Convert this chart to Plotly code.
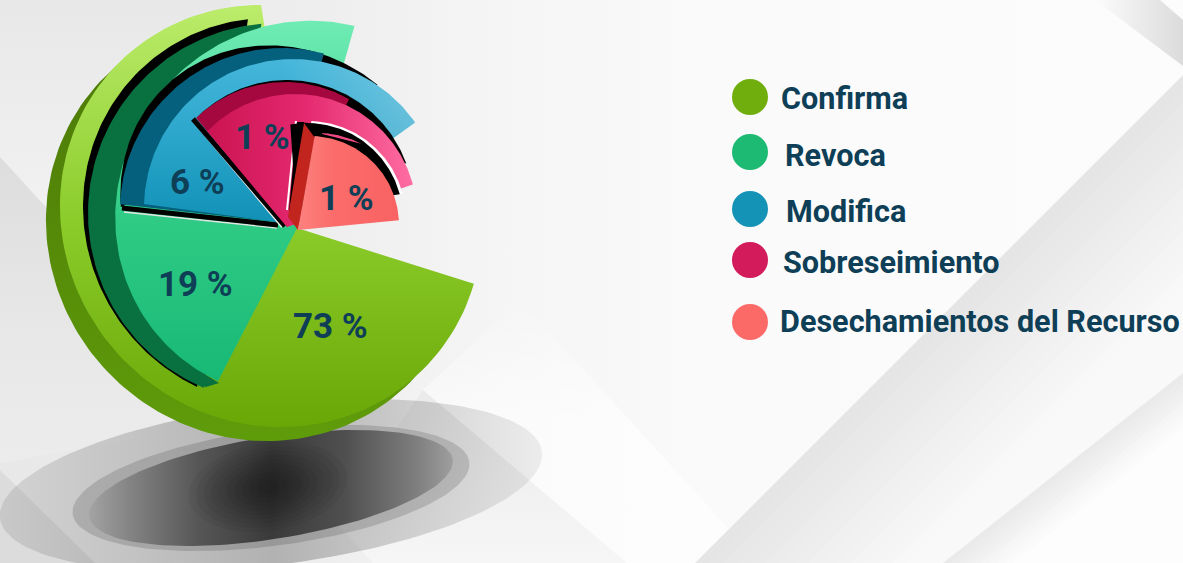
import numpy as np
import plotly.graph_objects as go

# ---- chart data ----
categories = ["Confirma", "Revoca", "Modifica", "Sobreseimiento", "Desechamientos del Recurso"]
values = [73, 19, 6, 1, 1]
legend_colors = ["#6fae0c", "#1cba72", "#1593b6", "#d31a5b", "#fc6a68"]
legend_y = [97, 152, 209, 260, 322]
legend_text_x = [779, 783, 784, 781, 778]
legend_text_y = [98, 155, 211, 262, 321]
label_x = [330, 195, 197, 262, 346]
label_y = [326, 284, 182, 137, 198]
TEXT = "#0e3f57"
FONT = "Roboto"

fig = go.Figure()


def arc(cx, cy, a, b, phi, t0, t1, n=120):
    """Points on a rotated ellipse, polar angle t in degrees, counter-clockwise on screen."""
    t = np.radians(np.linspace(t0, t1, n))
    p = np.radians(phi)
    r = 1 / np.sqrt((np.cos(t - p) / a) ** 2 + (np.sin(t - p) / b) ** 2)
    return cx + r * np.cos(t), cy - r * np.sin(t)


def poly(xs, ys, color=None, grad=None):
    kw = dict(x=list(xs), y=list(ys), mode="lines", fill="toself", hoverinfo="skip",
              showlegend=False, line=dict(width=0, color="rgba(0,0,0,0)"))
    if grad:
        orient, start, stop, scale = grad
        kw["fillgradient"] = dict(type=orient, start=start, stop=stop, colorscale=scale)
    else:
        kw["fillcolor"] = color
    fig.add_trace(go.Scatter(**kw))


def sector(tip, c, a, b, phi, t0, t1, color=None, grad=None):
    x, y = arc(c[0], c[1], a, b, phi, t0, t1)
    if tip is not None:
        x = np.r_[tip[0], x, tip[0]]
        y = np.r_[tip[1], y, tip[1]]
    poly(x, y, color, grad)


def stroke(x0, y0, x1, y1, color, w):
    fig.add_trace(go.Scatter(x=[x0, x1], y=[y0, y1], mode="lines", hoverinfo="skip", showlegend=False,
                             line=dict(color=color, width=w)))


def tilted(cx, cy, a, b, phi, color=None, grad=None):
    t = np.linspace(0, 2 * np.pi, 160)
    p = np.radians(phi)
    x = cx + a * np.cos(t) * np.cos(p) - b * np.sin(t) * np.sin(p)
    y = cy - (a * np.cos(t) * np.sin(p) + b * np.sin(t) * np.cos(p))
    poly(x, y, color, grad)


def grey(v):
    v = int(round(v))
    return f"rgb({v},{v},{v})"


# ---- background facets ----
poly([0, 1183, 1183, 0], [0, 0, 563, 563],
     grad=("horizontal", 0, 1183, [[0, "#e8e8e8"], [0.25, "#ededed"], [0.42, "#f5f5f5"], [0.6, "#fafafa"], [1, "#fcfcfc"]]))
poly([0, 230, 240, 0], [0, 0, 420, 157], grad=("vertical", 0, 300, [[0, "#e8e8e8"], [1, "#f5f5f5"]]))
poly([0, 240, 0], [157, 420, 463], grad=("vertical", 157, 463, [[0, "#dddddd"], [0.6, "#e8e8e8"], [1, "#ececec"]]))
poly([0, 95, 0], [470, 563, 563], "#dcdcdc")
poly([423, 627, 373, 333], [390, 563, 563, 520], grad=("vertical", 390, 563, [[0, "#eaeaea"], [1, "#f6f6f6"]]))
poly([423, 627, 760, 520], [390, 563, 563, 300],
     grad=("vertical", 300, 420, [[0, "rgba(255,255,255,0)"], [1, "rgba(255,255,255,0.6)"]]))
for s in np.linspace(1258, 1470, 16):
    poly([1183, 1183, s - 563], [s - 1183, 563, 563], grey(229 + (s - 1258) / 212 * 20))
for d in np.linspace(0, 70, 10):
    poly([1183, 1183, 943 + d], [373 + 0.79 * d, 563, 563], grey(234 + d / 70 * 19))
poly([1095, 1160, 1183, 1183], [0, 0, 20, 66],
     grad=("horizontal", 1095, 1183, [[0, "rgba(0,0,0,0)"], [1, "rgba(0,0,0,0.13)"]]))

# ---- floor shadow ----
tilted(271, 485, 273, 80, 7, grad=("horizontal", 0, 543, [[0, "rgba(0,0,0,0.09)"], [0.5, "rgba(0,0,0,0.25)"], [1, "rgba(0,0,0,0.06)"]]))
tilted(271, 488, 200, 58, 7.5, "rgba(0,0,0,0.14)")
tilted(271, 488, 184, 51, 9, grad=("horizontal", 88, 455, [[0, "#a4a4a4"], [0.12, "#828282"], [0.3, "#565656"], [0.5, "#3a3a3a"], [0.7, "#4f4f4f"], [0.9, "#808080"], [1, "#a0a0a0"]]))
for k in np.linspace(1, 0.15, 10):
    tilted(268, 487, 80 * k, 44 * k, 9, "rgba(0,0,0,0.045)")

# ---- Confirma ----
TIP = (297, 228)
sector(None, (257, 230), 216, 206, 135, 125, 320, grad=("vertical", 60, 441, [[0, "#4d7a07"], [1, "#5f9c0a"]]))
sector(TIP, (271, 216), 216, 206, 135, 92.7, 341.5,
       grad=("vertical", 3, 428, [[0, "#bcec6c"], [0.5, "#8ccd2c"], [1, "#69a706"]]))

# ---- Revoca ----
sector(None, (275, 212), 196, 190, 125, 98, 246, "#000000")
sector(None, (278, 213), 190, 190, 0, 95, 247, "#08713f")
poly([195, 206, 219, 190], [383, 387, 383, 365], "#08713f")
sector(TIP, (302, 209), 192, 183, 50, 74, 244,
       grad=("vertical", 18, 385, [[0, "#70ecb4"], [0.55, "#2fcb85"], [1, "#17b875"]]))

# ---- Modifica ----
sector(None, (282, 207), 168, 155, 135, 52, 180, "#000000")
stroke(124, 212, 277, 228, "#e4e4e4", 1.5)
stroke(122, 208, 278, 225, "#000000", 5)
BT = (277, 222)
sector(BT, (282, 210), 162, 162, 0, 75, 178, "#05607e")
sector(BT, (293, 208), 149, 149, 0, 35, 178.5,
       grad=("vertical", 60, 222, [[0, "#45b6da"], [0.5, "#2aa5ca"], [1, "#1291b6"]]))
sector(BT, (293, 208), 149, 149, 0, 35, 100,
       grad=("horizontal", 280, 415, [[0, "rgba(255,255,255,0)"], [1, "rgba(255,255,255,0.26)"]]))

# ---- Sobreseimiento ----
stroke(194, 122, 282, 227, "#f0f0f0", 2)
stroke(193, 119, 285, 226, "#000000", 5)
sector(None, (287, 207), 127, 127, 0, 20, 135, "#000000")
PT = (287, 227)
sector(PT, (285, 210), 128, 128, 0, 60, 134, "#a4083e")
sector(PT, (295, 216), 122, 122, 0, 15, 136,
       grad=("horizontal", 200, 415, [[0, "#c9124f"], [0.5, "#e52a70"], [1, "#ff6fa2"]]))

# ---- Desechamientos ----
stroke(287, 210, 296, 121, "#ffffff", 2)
poly([289, 297, 304, 293], [210, 122, 122, 217], "#000000")
sector((296, 210), (308, 219), 98, 98, 0, 15, 88, "#ffffff")
sector((296, 210), (307, 219), 96, 96, 0, 15, 100, "#000000")
sector(None, (318, 225), 92, 92, 0, 62, 90, "#ee4a85")
poly([300, 322, 322, 315], [122, 125, 137, 137], "#000000")
poly([288, 304, 315, 298], [217, 123, 138, 230], "#c2241e")
sector((298, 230), (310, 225), 89, 89, 0, 3, 87,
       grad=("horizontal", 298, 399, [[0, "#fd8280"], [0.35, "#fa6c6a"], [1, "#f96262"]]))

# ---- legend (markers) ----
fig.add_trace(go.Scatter(x=[750] * len(categories), y=legend_y, mode="markers", hoverinfo="skip", showlegend=False,
                         marker=dict(size=36, color=legend_colors, line=dict(width=0))))

ann = []
for cat, x, y in zip(categories, legend_text_x, legend_text_y):
    ann.append(dict(x=x, y=y, text=cat, showarrow=False, xanchor="left", yanchor="middle", xref="x", yref="y",
                    font=dict(family=FONT, size=30.6, color=TEXT, weight=700)))
for v, x, y in zip(values, label_x, label_y):
    ann.append(dict(x=x, y=y, text=f"{v} %", showarrow=False, xanchor="center", yanchor="middle", xref="x", yref="y",
                    font=dict(family=FONT, size=35, color=TEXT, weight=700)))

fig.update_layout(
    width=1183, height=563, margin=dict(l=0, r=0, t=0, b=0), paper_bgcolor="#f5f5f5", plot_bgcolor="rgba(0,0,0,0)",
    showlegend=False, annotations=ann,
    xaxis=dict(range=[0, 1183], visible=False, fixedrange=True),
    yaxis=dict(range=[563, 0], visible=False, fixedrange=True),
)
fig.write_html("out.html", config={"displayModeBar": False},
               post_script="document.body.style.margin='0';document.body.style.overflow='hidden';")
